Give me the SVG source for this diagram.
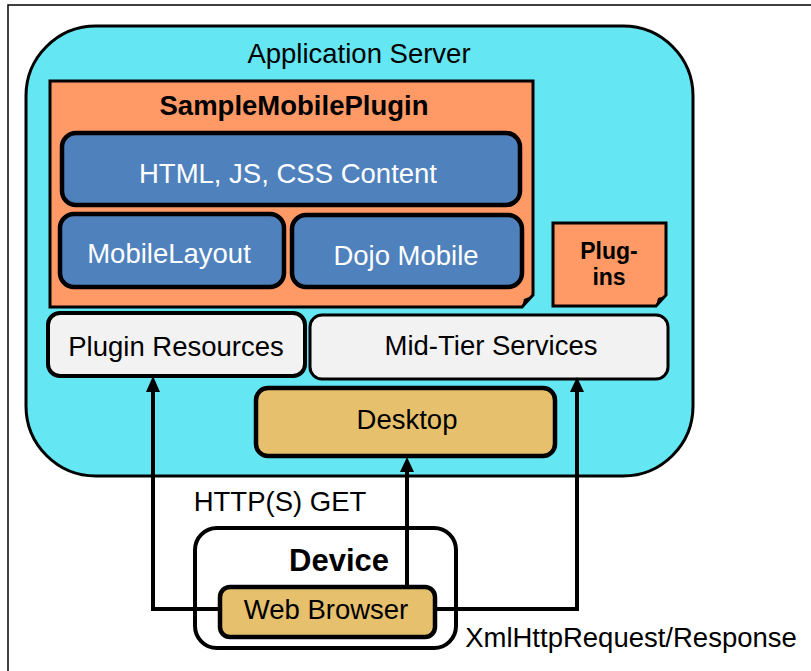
<svg xmlns="http://www.w3.org/2000/svg" width="811" height="671" viewBox="0 0 811 671">
<style>
text{font-family:"Liberation Sans",Arial,sans-serif;font-size:27.5px;text-anchor:middle;fill:#000}
.b{font-weight:bold}
.w{fill:#fff}
.blue{fill:#4F81BD;stroke:#000;stroke-width:4.5}
.tan{fill:#E6C06D;stroke:#000;stroke-width:4.5}
.gray{fill:#F2F2F2;stroke:#000}
.org{fill:#FF9966;stroke:#000;stroke-width:3}
.conn{fill:none;stroke:#000;stroke-width:4}
</style>
<rect x="8" y="5" width="830" height="700" fill="#fff" stroke="#000" stroke-width="1.5"/>
<g id="app-server">
<rect x="26" y="26" width="667" height="450" rx="70" fill="#64E6F3" stroke="#000" stroke-width="3"/>
<text x="359" y="63">Application Server</text>
</g>
<g id="sample-mobile-plugin">
<path class="org" d="M50,81 H533 V295 L522,307 H50 Z"/>
<path d="M522,307 L524,299 L532,296 Z" fill="#000"/>
<text class="b" x="294" y="115" style="font-size:27.5px">SampleMobilePlugin</text>
</g>
<g id="html-content">
<rect class="blue" x="62" y="133" width="458" height="72" rx="14"/>
<text class="w" x="288" y="183">HTML, JS, CSS Content</text>
</g>
<g id="mobile-layout">
<rect class="blue" x="60" y="214" width="224" height="73" rx="14"/>
<text class="w" x="169" y="263">MobileLayout</text>
</g>
<g id="dojo-mobile">
<rect class="blue" x="292" y="215" width="230" height="72" rx="14"/>
<text class="w" x="406" y="265">Dojo Mobile</text>
</g>
<g id="plug-ins">
<path class="org" d="M553,223 H666 V295 L656,306 H553 Z"/>
<path d="M656,306 L658,298 L665,296 Z" fill="#000"/>
<text class="b" x="609" y="259" style="font-size:23px">Plug-</text>
<text class="b" x="609" y="285" style="font-size:23px">ins</text>
</g>
<g id="plugin-resources">
<rect class="gray" x="48" y="313" width="257" height="63" rx="12" stroke-width="4"/>
<text x="176" y="356">Plugin Resources</text>
</g>
<g id="mid-tier-services">
<rect class="gray" x="310" y="315" width="358" height="64" rx="12" stroke-width="3"/>
<text x="491" y="355">Mid-Tier Services</text>
</g>
<g id="desktop">
<rect class="tan" x="256" y="388" width="299" height="68" rx="12"/>
<text x="407" y="429">Desktop</text>
</g>
<g id="device">
<rect x="195" y="528" width="261" height="120" rx="22" fill="#fff" stroke="#000" stroke-width="4"/>
<text class="b" x="339" y="571" style="font-size:31px">Device</text>
</g>
<g id="connectors">
<path class="conn" d="M220,609 H153 V390"/>
<polygon points="153,376 146,392 160,392"/>
<path class="conn" d="M407,587 V470"/>
<polygon points="407,457 400,472 414,472"/>
<path class="conn" d="M435,609 H577 V390"/>
<polygon points="577,377 570,392 584,392"/>
</g>
<g id="web-browser">
<rect class="tan" x="220" y="587" width="215" height="50" rx="10" stroke-width="5"/>
<text x="326" y="619">Web Browser</text>
</g>
<text x="280" y="511">HTTP(S) GET</text>
<text x="631" y="647">XmlHttpRequest/Response</text>
</svg>
